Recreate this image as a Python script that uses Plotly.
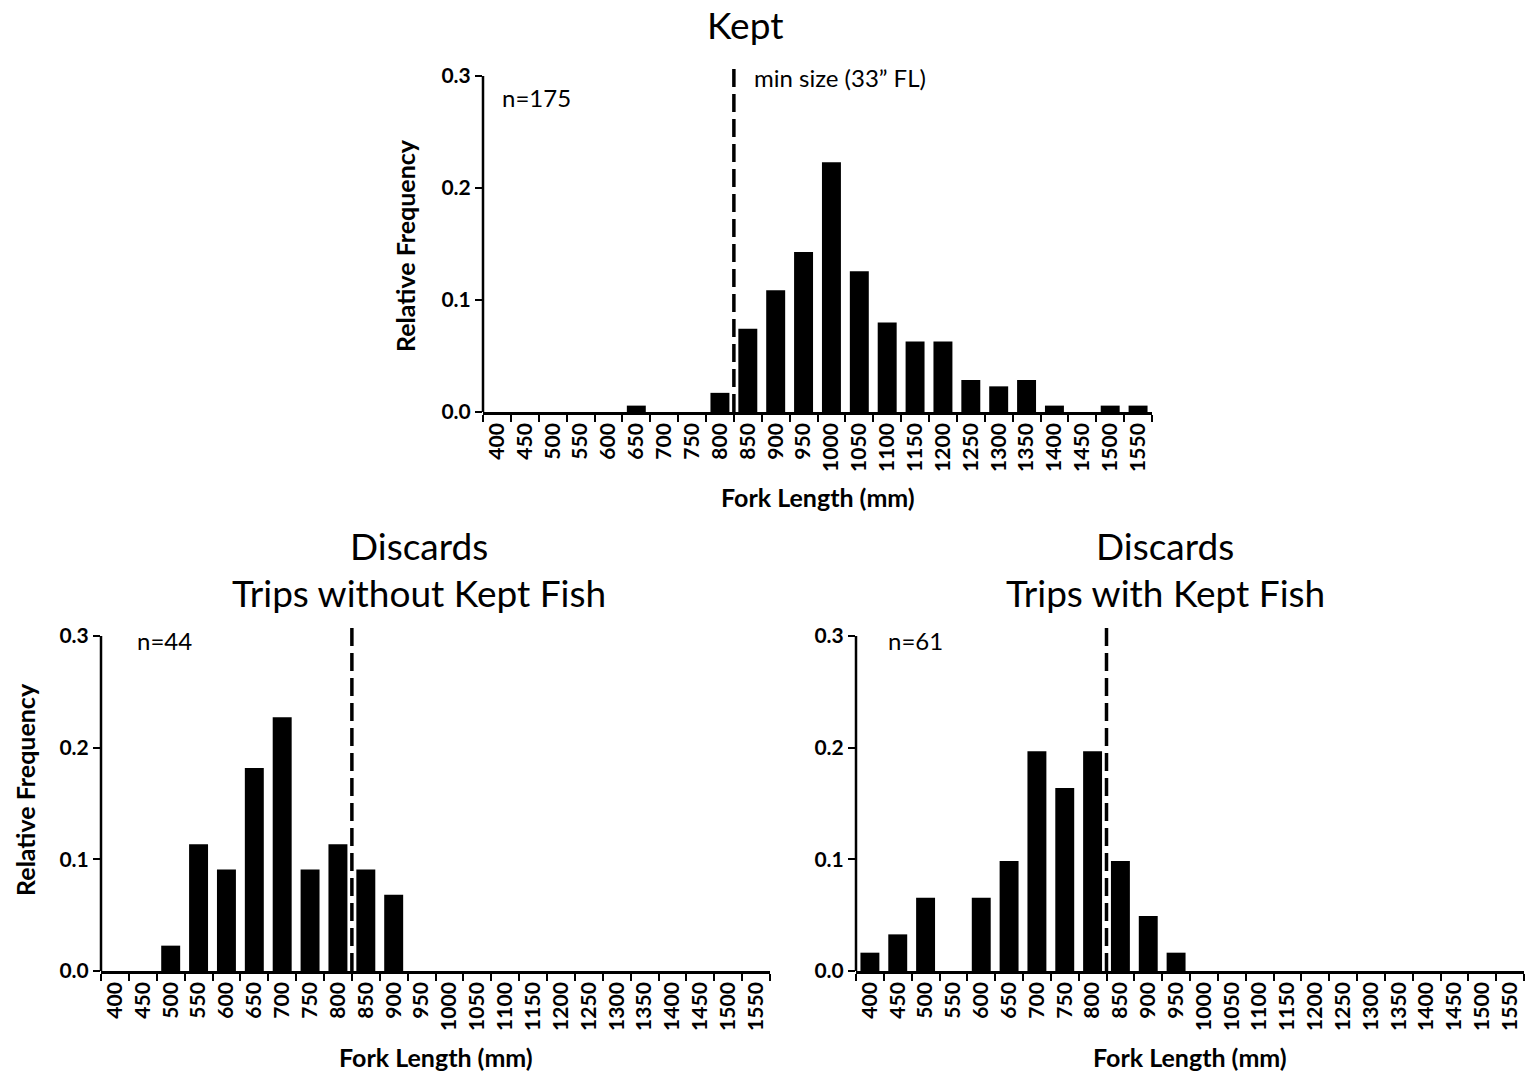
import plotly.graph_objects as go

bins = [str(v) for v in range(400, 1600, 50)]
kept = [0, 0, 0, 0, 0, 0.0057, 0, 0, 0.0171, 0.0743, 0.1086, 0.1429, 0.2229, 0.1257,
        0.0800, 0.0629, 0.0629, 0.0286, 0.0229, 0.0286, 0.0057, 0, 0.0057, 0.0057]
disc_without = [0, 0, 0.0227, 0.1136, 0.0909, 0.1818, 0.2273, 0.0909, 0.1136, 0.0909, 0.0682,
                0, 0, 0, 0, 0, 0, 0, 0, 0, 0, 0, 0, 0]
disc_with = [0.0164, 0.0328, 0.0656, 0, 0.0656, 0.0984, 0.1967, 0.1639, 0.1967, 0.0984, 0.0492,
             0.0164, 0, 0, 0, 0, 0, 0, 0, 0, 0, 0, 0, 0]
min_size_pos = 8.5  # boundary between 800 and 850 bins
y_ticks = [0.0, 0.1, 0.2, 0.3]

FONT = "Lato"
W, H = 1525, 1073

fig = go.Figure()
for i, vals in enumerate([kept, disc_without, disc_with]):
    sfx = "" if i == 0 else str(i + 1)
    fig.add_trace(go.Bar(x=bins, y=vals, xaxis="x" + sfx, yaxis="y" + sfx,
                         marker=dict(color="black", line=dict(width=0)), showlegend=False))
    # dashed min size line
    fig.add_shape(type="line", xref="x" + sfx, yref="y" + sfx, x0=min_size_pos, x1=min_size_pos,
                  y0=0, y1=0.31, line=dict(color="black", width=3.5, dash="18px,7px"))
    # y axis line from 0 to 0.3
    fig.add_shape(type="line", xref="x" + sfx + " domain", yref="y" + sfx, x0=0, x1=0,
                  y0=0, y1=0.3, line=dict(color="black", width=2.5))

xdoms = [[483 / W, 1152 / W], [101 / W, 770 / W], [856 / W, 1524 / W]]
ydoms = [[1 - 412 / H, 1 - 64.8 / H], [1 - 971 / H, 1 - 624.8 / H], [1 - 971 / H, 1 - 624.8 / H]]

layout = dict(width=W, height=H, margin=dict(l=0, r=0, t=0, b=0),
              plot_bgcolor="white", paper_bgcolor="white", bargap=0.32,
              font=dict(family=FONT, color="black"))
for i in range(3):
    sfx = "" if i == 0 else str(i + 1)
    layout["xaxis" + sfx] = dict(domain=xdoms[i], anchor="y" + sfx, type="category",
                                 categoryorder="array", categoryarray=bins,
                                 range=[-0.5, len(bins) - 0.5],
                                 showline=True, linecolor="black", linewidth=2.5,
                                 ticks="outside", tickson="boundaries", ticklen=7, tickwidth=2,
                                 tickcolor="black", tickangle=-90, showgrid=False,
                                 tickfont=dict(family=FONT, size=21, color="black", weight="bold"),
                                 automargin=False, fixedrange=True)
    layout["yaxis" + sfx] = dict(domain=ydoms[i], anchor="x" + sfx, range=[0, 0.31],
                                 tickvals=y_ticks, tickformat=".1f",
                                 showline=False, ticks="outside", ticklen=7, tickwidth=2,
                                 tickcolor="black", showgrid=False, zeroline=False,
                                 tickfont=dict(family=FONT, size=21, color="black", weight="bold"),
                                 automargin=False, fixedrange=True)
fig.update_layout(**layout)

ann = []
def A(text, x, y, xref="paper", yref="paper", size=16, bold=False, xanchor="center", yanchor="middle", angle=0):
    ann.append(dict(text=text, x=x, y=y, xref=xref, yref=yref, showarrow=False, xanchor=xanchor,
                    yanchor=yanchor, textangle=angle,
                    font=dict(family=FONT, size=size, color="black", weight="bold" if bold else "normal")))

# titles
A("Kept", 745 / W, 1 - 24 / H, size=37)
A("Discards", 419 / W, 1 - 545 / H, size=37)
A("Trips without Kept Fish", 419 / W, 1 - 592 / H, size=37)
A("Discards", 1165 / W, 1 - 545 / H, size=37)
A("Trips with Kept Fish", 1165 / W, 1 - 592 / H, size=37)

# axis titles
A("Fork Length (mm)", 0.5, -0.245, "x domain", "y domain", size=25, bold=True)
A("Fork Length (mm)", 0.5, -0.248, "x2 domain", "y2 domain", size=25, bold=True)
A("Fork Length (mm)", 0.5, -0.248, "x3 domain", "y3 domain", size=25, bold=True)
A("Relative Frequency", -0.1166, 0.481, "x domain", "y domain", size=25, bold=True, angle=-90)
A("Relative Frequency", -0.1136, 0.523, "x2 domain", "y2 domain", size=25, bold=True, angle=-90)

# n labels
A("n=175", 0.025, 0.907, "x domain", "y domain", size=24, xanchor="left")
A("n=44", 0.051, 0.954, "x2 domain", "y2 domain", size=24, xanchor="left")
A("n=61", 0.045, 0.954, "x3 domain", "y3 domain", size=24, xanchor="left")
A("min size (33\u201d FL)", 0.402, 0.962, "x domain", "y domain", size=24, xanchor="left")

fig.update_layout(annotations=ann)
fig.write_html("out.html")
